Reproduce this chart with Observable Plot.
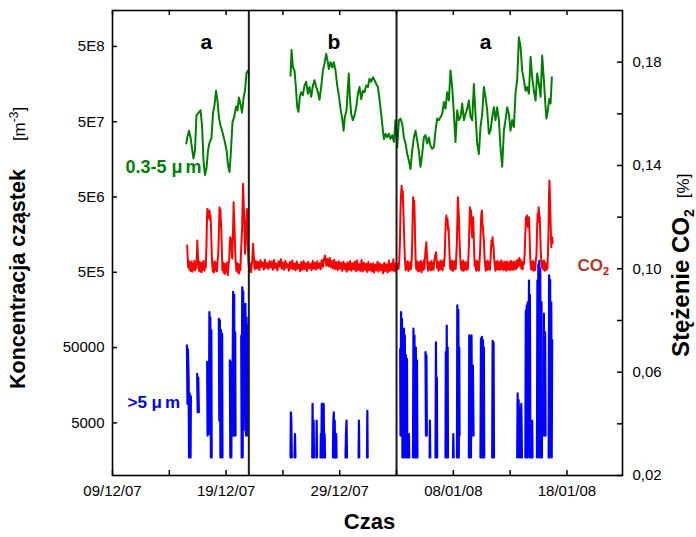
<!DOCTYPE html>
<html><head><meta charset="utf-8">
<script src="https://cdn.jsdelivr.net/npm/d3@7"></script>
<script src="https://cdn.jsdelivr.net/npm/@observablehq/plot@0.6"></script>
<style>
body{margin:0;background:#fff;}
#chart{position:relative;width:696px;height:537px;}
#chart svg{position:absolute;left:0;top:0;}
</style></head><body><div id="chart"></div>
<script>
// ---- data (time = days since 2007-12-01 00:00 UTC) ----
const xDomainDays = [8, 52.89];
const xMajorTicks = ["2007-12-09", "2007-12-19", "2007-12-29", "2008-01-08", "2008-01-18"];
const xMinorTicks = ["2007-12-14", "2007-12-24", "2008-01-03", "2008-01-13"];
const separators = ["2007-12-21", "2008-01-03"];

const leftTicks = [5000, 50000, 5e5, 5e6, 5e7, 5e8];
const leftTickLabels = ["5000", "50000", "5E5", "5E6", "5E7", "5E8"];
const leftDomain = [1e3, 1.5e9];

const rightTicks = [0.02, 0.06, 0.10, 0.14, 0.18];
const rightTickLabels = ["0,02", "0,06", "0,10", "0,14", "0,18"];
const rightMinorTicks = [0.04, 0.08, 0.12, 0.16];
const rightDomain = [0.02, 0.20];

const periodLabels = ["a", "b", "a"];
const periodLabelDays = [16.27, 27.48, 40.83];

// particles 0.3-5 µm : [day, log10(concentration m^-3)]
const greenA = [[14.49,7.41],[14.60,7.50],[14.73,7.58],[14.87,7.49],[15.00,7.34],[15.13,7.21],[15.26,7.32],[15.39,7.78],[15.57,7.82],[15.75,7.85],[15.88,7.65],[16.01,7.18],[16.14,6.99],[16.27,7.08],[16.41,7.32],[16.54,7.42],[16.71,7.48],[16.85,7.82],[16.98,7.92],[17.11,8.11],[17.24,7.98],[17.38,7.74],[17.51,7.65],[17.68,7.56],[17.86,7.45],[18.04,7.32],[18.17,7.12],[18.30,7.03],[18.43,7.32],[18.56,7.69],[18.74,7.78],[18.87,7.90],[19.00,7.85],[19.13,8.02],[19.27,7.93],[19.40,7.82],[19.53,8.01],[19.66,8.11],[19.80,8.35],[19.93,8.38],[20.02,8.33]];
const greenB = [[23.67,8.31],[23.76,8.65],[23.88,8.42],[24.02,8.38],[24.14,8.16],[24.26,7.89],[24.37,7.83],[24.49,8.03],[24.61,8.09],[24.75,8.05],[24.90,8.18],[25.05,8.23],[25.20,8.07],[25.34,8.16],[25.49,8.03],[25.64,8.18],[25.78,8.25],[25.93,8.16],[26.08,8.09],[26.22,7.99],[26.37,8.16],[26.52,8.38],[26.66,8.47],[26.81,8.60],[26.93,8.51],[27.04,8.40],[27.19,8.49],[27.34,8.42],[27.48,8.49],[27.63,8.38],[27.78,8.18],[27.92,8.05],[28.07,7.87],[28.22,7.74],[28.34,7.58],[28.45,7.76],[28.60,7.85],[28.72,8.16],[28.80,8.34],[28.89,8.03],[29.01,7.80],[29.16,7.72],[29.30,7.78],[29.45,7.89],[29.60,8.07],[29.74,8.16],[29.89,8.00],[30.04,8.11],[30.18,8.09],[30.33,8.18],[30.48,8.16],[30.62,8.27],[30.77,8.23],[30.92,8.29],[31.06,8.25],[31.21,8.20],[31.36,8.16],[31.50,8.00],[31.65,7.80],[31.80,7.58],[31.89,7.47],[32.03,7.54],[32.18,7.49],[32.33,7.54],[32.47,7.47],[32.62,7.52],[32.77,7.43],[32.91,7.72],[33.06,7.36],[33.21,7.72],[33.35,7.74],[33.50,7.67],[33.65,7.49],[33.79,7.41],[33.94,7.27],[34.09,7.18],[34.23,7.07],[34.38,7.32],[34.53,7.49],[34.67,7.58],[34.82,7.45],[34.97,7.30],[35.11,7.10],[35.26,7.27],[35.41,7.49],[35.55,7.52],[35.70,7.41],[35.85,7.49],[35.99,7.38],[36.14,7.34],[36.29,7.36],[36.43,7.58],[36.58,7.74],[36.73,7.72],[36.87,7.76],[37.02,7.80],[37.17,7.96],[37.31,7.87],[37.46,8.09],[37.61,7.98],[37.75,8.38],[37.90,8.16],[38.05,7.80],[38.19,7.43],[38.34,7.85],[38.49,7.72],[38.63,7.76],[38.78,7.94],[38.93,7.72],[39.07,7.80],[39.22,7.87],[39.37,7.98],[39.51,7.76],[39.66,7.72],[39.81,8.20],[39.95,7.80],[40.10,7.41],[40.25,7.27],[40.39,7.63],[40.54,7.80],[40.69,8.16],[40.83,8.03],[40.98,7.85],[41.13,7.54],[41.27,7.58],[41.42,7.76],[41.57,7.89],[41.71,7.72],[41.86,7.89],[42.01,7.72],[42.15,7.36],[42.30,7.10],[42.45,7.58],[42.59,7.72],[42.74,7.89],[42.89,7.80],[43.03,7.58],[43.18,7.72],[43.33,7.63],[43.48,8.09],[43.62,8.25],[43.77,8.82],[43.92,8.69],[44.06,8.38],[44.21,8.25],[44.36,8.11],[44.50,8.16],[44.65,8.07],[44.80,8.56],[44.94,8.29],[45.09,8.11],[45.24,7.98],[45.38,8.34],[45.53,8.20],[45.68,8.03],[45.82,8.58],[45.97,8.25],[46.12,7.89],[46.20,7.74],[46.32,7.85],[46.44,8.00],[46.56,7.94],[46.67,8.29]];

// particles >5 µm bursts : [day, log10(concentration m^-3)]
const blueBursts = [
 [[14.55,4.73],[14.60,3.95],[14.64,4.68],[14.70,4.28],[14.74,3.24],[14.80,4.09],[14.87,3.24],[14.90,4.05]],
 [[15.45,4.35],[15.50,3.84],[15.55,4.30],[15.60,3.84]],
 [[16.33,4.51],[16.37,3.53],[16.43,4.49],[16.48,3.55],[16.53,5.17],[16.57,3.60],[16.61,5.10],[16.66,3.24],[16.70,4.93],[16.73,3.24]],
 [[17.36,5.08],[17.40,3.73],[17.45,5.06],[17.50,3.24],[17.55,4.93],[17.60,3.24],[17.65,4.88],[17.68,3.24]],
 [[18.33,4.53],[18.37,3.24],[18.42,4.51],[18.46,3.24],[18.50,4.51],[18.54,3.53],[18.62,5.44],[18.66,3.53],[18.71,5.40],[18.75,3.53],[18.80,4.90],[18.83,3.53]],
 [[19.33,4.86],[19.37,3.24],[19.42,5.50],[19.46,3.24],[19.50,5.45],[19.54,3.60],[19.60,5.28],[19.65,4.09],[19.70,5.28],[19.75,3.53],[19.80,5.10],[19.85,3.53],[19.88,5.00]],
 [[23.67,3.24],[23.70,3.84],[23.74,3.73],[23.78,3.24]],
 [[24.02,3.24],[24.06,3.55],[24.10,3.24]],
 [[25.58,3.24],[25.61,3.95],[25.65,3.24],[25.70,3.73],[25.74,3.24]],
 [[25.94,3.24],[25.97,3.73],[26.00,3.24]],
 [[26.31,3.24],[26.34,3.55],[26.38,3.24],[26.42,3.95],[26.46,3.24],[26.50,3.95],[26.55,3.24],[26.59,3.95],[26.63,3.24],[26.67,3.55],[26.71,3.24]],
 [[27.40,3.24],[27.44,3.73],[27.48,3.84],[27.52,3.24],[27.56,3.73],[27.60,3.24]],
 [[27.66,3.24],[27.69,3.55],[27.72,3.24]],
 [[28.51,3.24],[28.55,3.55],[28.60,3.73],[28.64,3.24]],
 [[29.66,3.24],[29.69,3.73],[29.72,3.24]],
 [[30.40,3.24],[30.43,3.86],[30.46,3.24]],
 [[33.32,4.68],[33.35,3.53],[33.40,5.17],[33.44,3.73],[33.48,5.08],[33.52,3.24],[33.56,4.86],[33.60,3.24],[33.65,4.95],[33.69,3.24],[33.73,4.86],[33.77,3.53],[33.82,4.60],[33.86,3.24],[33.92,4.55],[33.95,3.24]],
 [[34.05,3.24],[34.09,3.55],[34.12,3.24]],
 [[34.45,3.24],[34.49,4.95],[34.53,3.24],[34.58,4.86],[34.62,3.24],[34.70,4.70],[34.75,3.24],[34.80,4.53],[34.84,3.24]],
 [[35.55,4.64],[35.59,3.53],[35.63,4.60],[35.67,3.53]],
 [[35.91,3.24],[35.94,3.73],[35.97,3.24]],
 [[36.43,3.24],[36.47,4.77],[36.51,3.24],[36.55,4.30],[36.58,3.24]],
 [[37.31,3.24],[37.34,4.64],[37.38,3.24],[37.42,4.99],[37.46,3.24],[37.50,4.70],[37.53,3.24]],
 [[37.97,3.24],[38.00,3.55],[38.03,3.24]],
 [[38.32,3.24],[38.35,5.26],[38.39,3.24],[38.44,5.20],[38.48,3.24],[38.52,4.70],[38.55,3.53]],
 [[39.37,3.24],[39.40,4.86],[39.44,3.24],[39.50,4.82],[39.55,3.24],[39.60,4.86],[39.65,3.53],[39.72,4.46],[39.78,3.53]],
 [[40.39,3.24],[40.43,4.82],[40.47,3.24],[40.52,4.84],[40.56,3.24],[40.61,4.80],[40.65,3.24],[40.69,4.70],[40.72,3.24]],
 [[41.42,3.24],[41.46,4.79],[41.50,3.24],[41.54,4.77],[41.58,3.24]],
 [[43.62,3.24],[43.66,4.09],[43.70,3.40],[43.75,4.00],[43.80,3.24],[43.86,3.90],[43.92,3.24],[43.98,3.95],[44.04,3.24]],
 [[44.34,3.24],[44.38,5.19],[44.42,3.24],[44.46,5.26],[44.50,3.24],[44.55,5.30],[44.60,3.53],[44.66,5.59],[44.70,3.24],[44.74,5.40],[44.78,3.24]],
 [[44.90,3.24],[44.94,3.73],[44.97,3.24]],
 [[45.36,3.24],[45.40,5.59],[45.44,3.53],[45.48,5.80],[45.52,3.24],[45.56,5.85],[45.60,3.53],[45.65,5.75],[45.70,3.24],[45.76,5.30],[45.80,3.24]],
 [[45.92,3.53],[45.97,5.15],[46.02,3.53],[46.08,4.90],[46.12,3.53]],
 [[46.39,3.24],[46.43,5.66],[46.47,3.24],[46.52,5.60],[46.56,3.40],[46.62,5.30],[46.66,3.24],[46.70,4.80]]
];

// CO2 concentration [%] : [day, value] — period a (1), period b, period a (2)
const co2A = [[14.57,.109],[14.62,.1045],[14.66,.1006],[14.72,.1030],[14.78,.0996],[14.84,.1024],[14.90,.0992],[14.96,.1028],[15.02,.0989],[15.08,.1018],[15.14,.0998],[15.20,.1031],[15.26,.0994],[15.32,.1021],[15.38,.1002],[15.43,.1060],[15.46,.1110],[15.50,.1070],[15.55,.1030],[15.61,.0993],[15.67,.1026],[15.73,.0990],[15.79,.1022],[15.85,.0987],[15.91,.1025],[15.97,.0997],[16.03,.1030],[16.09,.0993],[16.15,.1022],[16.21,.1004],[16.27,.1090],[16.31,.1180],[16.35,.1232],[16.40,.1200],[16.45,.1222],[16.50,.1195],[16.54,.1226],[16.59,.1190],[16.63,.1206],[16.68,.1150],[16.72,.1084],[16.77,.1020],[16.83,.0990],[16.89,.1025],[16.95,.0986],[17.01,.1028],[17.07,.0995],[17.13,.1022],[17.19,.0990],[17.25,.1030],[17.31,.1060],[17.37,.1150],[17.42,.1238],[17.46,.1205],[17.50,.1230],[17.54,.1180],[17.58,.1150],[17.62,.1080],[17.67,.0995],[17.73,.1024],[17.79,.0985],[17.85,.1020],[17.91,.0980],[17.97,.1018],[18.03,.0990],[18.09,.1025],[18.15,.0975],[18.21,.1015],[18.27,.1032],[18.32,.1090],[18.36,.1122],[18.41,.1095],[18.45,.1116],[18.50,.1060],[18.54,.1040],[18.58,.1100],[18.62,.1170],[18.66,.1258],[18.70,.1200],[18.74,.1160],[18.79,.1080],[18.84,.1030],[18.90,.0993],[18.96,.1022],[19.02,.0988],[19.08,.1019],[19.14,.0982],[19.20,.1015],[19.26,.0995],[19.31,.1058],[19.36,.1110],[19.41,.1161],[19.45,.1250],[19.49,.1329],[19.53,.1280],[19.57,.1226],[19.62,.1150],[19.66,.1058],[19.71,.1100],[19.75,.1161],[19.80,.1200],[19.83,.1232],[19.87,.1160],[19.91,.1097],[19.95,.1040],[20.00,.1006],[20.05,.1024],[20.10,.0990],[20.15,.1020],[20.20,.0987],[20.25,.1015],[20.30,.1032],[20.34,.1070],[20.38,.1097],[20.42,.1060],[20.47,.1025]];
const co2B = [[20.52,.0998],[20.62,.1030],[20.72,.1002],[20.82,.1027],[20.92,.0995],[21.02,.1033],[21.12,.1008],[21.22,.1025],[21.32,.0997],[21.42,.1035],[21.52,.1004],[21.62,.1022],[21.72,.0999],[21.82,.1030],[21.92,.1006],[22.02,.1028],[22.12,.0996],[22.22,.1034],[22.32,.1003],[22.42,.1020],[22.52,.0994],[22.62,.1029],[22.72,.1009],[22.82,.1037],[22.92,.1000],[23.02,.1024],[23.12,.0996],[23.22,.1031],[23.32,.1005],[23.42,.1019],[23.52,.0993],[23.62,.1027],[23.72,.1001],[23.82,.1032],[23.92,.0998],[24.02,.1021],[24.12,.0994],[24.22,.1028],[24.32,.1000],[24.42,.1017],[24.52,.0991],[24.62,.1026],[24.72,.0996],[24.82,.1030],[24.92,.0999],[25.02,.1022],[25.12,.0992],[25.22,.1027],[25.32,.1002],[25.42,.1019],[25.52,.0995],[25.62,.1031],[25.72,.1000],[25.82,.1024],[25.92,.0997],[26.02,.1029],[26.12,.1003],[26.22,.1022],[26.32,.0998],[26.42,.1034],[26.52,.1008],[26.62,.1040],[26.72,.1051],[26.82,.1012],[26.92,.1038],[27.02,.1010],[27.12,.1042],[27.22,.1006],[27.32,.1030],[27.42,.1001],[27.52,.1035],[27.62,.0999],[27.72,.1026],[27.82,.0995],[27.92,.1029],[28.02,.1000],[28.12,.1024],[28.22,.0992],[28.32,.1027],[28.42,.0998],[28.52,.1020],[28.62,.0989],[28.72,.1025],[28.82,.0996],[28.92,.1030],[29.02,.0993],[29.12,.1022],[29.22,.0997],[29.32,.1028],[29.42,.0991],[29.52,.1032],[29.62,.0995],[29.72,.1018],[29.82,.0992],[29.92,.1034],[30.02,.0990],[30.12,.1024],[30.22,.0996],[30.32,.1020],[30.42,.0988],[30.52,.1026],[30.62,.0994],[30.72,.1019],[30.82,.0990],[30.92,.1022],[31.02,.0986],[31.12,.1017],[31.22,.0993],[31.32,.1027],[31.42,.0989],[31.52,.1021],[31.62,.0995],[31.72,.1016],[31.82,.0983],[31.92,.1024],[32.02,.0991],[32.12,.1018],[32.22,.0986],[32.32,.1032],[32.42,.0992],[32.52,.1020],[32.62,.0994],[32.72,.1037],[32.82,.0990],[32.92,.1022],[33.02,.0995],[33.10,.1019]];
const co2C = [[33.18,.1000],[33.24,.1032],[33.30,.1100],[33.35,.1226],[33.40,.1290],[33.45,.1322],[33.50,.1280],[33.55,.1300],[33.60,.1230],[33.65,.1161],[33.70,.1080],[33.75,.1030],[33.80,.0995],[33.86,.1025],[33.92,.1000],[33.98,.1030],[34.04,.0992],[34.10,.1022],[34.16,.0997],[34.22,.1026],[34.28,.1000],[34.34,.1040],[34.38,.1100],[34.42,.1200],[34.46,.1277],[34.51,.1240],[34.56,.1264],[34.60,.1200],[34.64,.1100],[34.68,.1040],[34.73,.1000],[34.79,.1028],[34.85,.0993],[34.91,.1025],[34.97,.0990],[35.03,.1026],[35.09,.0995],[35.15,.1030],[35.21,.0987],[35.27,.1022],[35.33,.0996],[35.39,.1032],[35.45,.1000],[35.51,.1045],[35.57,.1080],[35.62,.1103],[35.67,.1060],[35.72,.1020],[35.78,.0993],[35.84,.1026],[35.90,.0998],[35.96,.1024],[36.02,.0995],[36.08,.1030],[36.14,.0999],[36.20,.1022],[36.26,.0996],[36.32,.1032],[36.38,.1045],[36.43,.1058],[36.48,.1064],[36.53,.1030],[36.58,.1002],[36.64,.1028],[36.70,.0993],[36.76,.1024],[36.82,.0997],[36.88,.1032],[36.94,.0999],[37.00,.1026],[37.06,.0995],[37.12,.1032],[37.18,.1010],[37.24,.1050],[37.29,.1122],[37.34,.1180],[37.39,.1206],[37.44,.1170],[37.49,.1193],[37.54,.1150],[37.58,.1161],[37.63,.1100],[37.68,.1040],[37.73,.1000],[37.79,.1028],[37.85,.0995],[37.91,.1032],[37.97,.0993],[38.03,.1026],[38.09,.0998],[38.15,.1030],[38.21,.1000],[38.27,.1060],[38.31,.1097],[38.36,.1200],[38.40,.1277],[38.45,.1230],[38.49,.1200],[38.53,.1130],[38.57,.1084],[38.62,.1030],[38.68,.0997],[38.74,.1026],[38.80,.0994],[38.86,.1032],[38.92,.0993],[38.98,.1024],[39.04,.0998],[39.10,.1026],[39.16,.0996],[39.22,.1020],[39.28,.1000],[39.33,.1050],[39.37,.1084],[39.42,.1180],[39.46,.1238],[39.51,.1200],[39.56,.1226],[39.61,.1160],[39.66,.1122],[39.71,.1170],[39.75,.1200],[39.80,.1120],[39.84,.1058],[39.89,.1010],[39.95,.1025],[40.01,.0993],[40.07,.1032],[40.13,.0997],[40.19,.1026],[40.25,.0993],[40.31,.1030],[40.36,.1071],[40.41,.1150],[40.46,.1210],[40.51,.1226],[40.56,.1180],[40.60,.1161],[40.65,.1130],[40.69,.1110],[40.74,.1050],[40.79,.1019],[40.85,.0993],[40.91,.1026],[40.97,.0996],[41.03,.1032],[41.09,.0999],[41.15,.1024],[41.21,.0996],[41.27,.1032],[41.32,.1080],[41.36,.1110],[41.41,.1100],[41.45,.1122],[41.50,.1090],[41.54,.1084],[41.59,.1040],[41.64,.1019],[41.70,.0993],[41.76,.1026],[41.82,.0997],[41.88,.1030],[41.94,.0999],[42.00,.1024],[42.06,.0996],[42.12,.1028],[42.18,.0998],[42.24,.1032],[42.30,.1000],[42.36,.1022],[42.42,.0995],[42.48,.1027],[42.54,.0998],[42.60,.1025],[42.66,.0993],[42.72,.1028],[42.78,.0996],[42.84,.1022],[42.90,.0998],[42.96,.1026],[43.02,.0995],[43.08,.1030],[43.14,.0999],[43.20,.1024],[43.26,.0996],[43.32,.1028],[43.38,.1000],[43.44,.1022],[43.50,.0998],[43.56,.1032],[43.62,.1005],[43.68,.1034],[43.74,.1010],[43.80,.1042],[43.86,.1015],[43.92,.1035],[43.98,.1002],[44.04,.1025],[44.10,.0998],[44.16,.1028],[44.22,.1019],[44.28,.1058],[44.32,.1120],[44.36,.1160],[44.40,.1200],[44.45,.1180],[44.49,.1206],[44.53,.1170],[44.57,.1161],[44.62,.1190],[44.66,.1200],[44.70,.1150],[44.74,.1080],[44.78,.1032],[44.84,.0999],[44.90,.1026],[44.96,.0995],[45.02,.1030],[45.08,.0993],[45.14,.1024],[45.20,.0995],[45.26,.1030],[45.32,.1058],[45.37,.1150],[45.42,.1213],[45.46,.1180],[45.51,.1238],[45.56,.1210],[45.61,.1200],[45.66,.1120],[45.70,.1060],[45.74,.1032],[45.80,.1006],[45.86,.1030],[45.92,.0997],[45.98,.1032],[46.04,.0993],[46.10,.1024],[46.16,.0995],[46.22,.1019],[46.28,.1000],[46.33,.1058],[46.38,.1150],[46.42,.1290],[46.46,.1342],[46.50,.1280],[46.54,.1213],[46.58,.1150],[46.62,.1084],[46.66,.1110],[46.70,.1122],[46.74,.1100]];

// ---- helpers ----
const day = d => new Date(Date.UTC(2007, 11, 1) + d * 864e5);
const parse = s => new Date(s + "T00:00:00Z");
const W = 696, H = 537;
const M = {top: 10, right: 74, bottom: 62, left: 112};
const frameW = W - M.left - M.right, frameH = H - M.top - M.bottom;
const font = "'Liberation Sans', Arial, Helvetica, sans-serif";
const xDomain = xDomainDays.map(day);
const co2 = co2A.concat(co2B, co2C);
const blueRows = blueBursts.flatMap((b, k) => b.map(p => ({d: p[0], v: 10 ** p[1], k})));
const xTicksAll = xMajorTicks.concat(xMinorTicks).map(parse);

// ---- CO2 plot (right axis, drawn underneath) ----
const co2Plot = Plot.plot({
  width: W, height: H,
  marginTop: M.top, marginRight: M.right, marginBottom: M.bottom, marginLeft: M.left,
  style: {fontFamily: font, fontSize: "15px", background: "white", color: "#000"},
  x: {type: "utc", domain: xDomain, axis: null},
  y: {domain: rightDomain, label: null},
  marks: [
    Plot.line(co2, {x: r => day(r[0]), y: r => r[1], stroke: "#ff0000", strokeWidth: 2}),
    Plot.tickY(rightTicks.concat(rightMinorTicks), {y: d => d, insetLeft: frameW - 5, stroke: "#000", strokeWidth: 1.5}),
    Plot.axisY(rightTicks, {anchor: "right", tickSize: 0, tickPadding: 10, label: null,
      tickFormat: d => rightTickLabels[rightTicks.indexOf(d)], fill: "#000"}),
    Plot.text([{d: 48.93, c: 0.1012}], {x: r => day(r.d), y: "c", text: () => "CO2", textAnchor: "start",
      fill: "#b23a23", fontWeight: "bold", fontSize: 17}),
    Plot.text(["Stężenie CO2"], {frameAnchor: "right", rotate: -90, textAnchor: "start", dx: 59, dy: 114,
      fontSize: 24, fontWeight: "bold", fill: "#000"})
  ]
});

// ---- particle plot (left log axis, drawn on top) ----
const partPlot = Plot.plot({
  width: W, height: H,
  marginTop: M.top, marginRight: M.right, marginBottom: M.bottom, marginLeft: M.left,
  style: {fontFamily: font, fontSize: "15px", background: "transparent", color: "#000"},
  x: {type: "utc", domain: xDomain, label: null},
  y: {type: "log", domain: leftDomain, label: null, axis: null},
  marks: [
    Plot.line(greenA, {x: r => day(r[0]), y: r => 10 ** r[1], stroke: "#008000", strokeWidth: 2}),
    Plot.line(greenB, {x: r => day(r[0]), y: r => 10 ** r[1], stroke: "#008000", strokeWidth: 2}),
    Plot.line(blueRows, {x: r => day(r.d), y: "v", z: "k", stroke: "#0000ff", strokeWidth: 2.2}),
    Plot.ruleX(separators.map(parse), {stroke: "#1a1a1a", strokeWidth: 2}),
    Plot.frame({stroke: "#000", strokeWidth: 1.6}),
    Plot.tickY(leftTicks, {y: d => d, insetRight: frameW - 5, stroke: "#000", strokeWidth: 1.5}),
    Plot.tickX(xTicksAll, {x: d => d, insetTop: frameH - 5, stroke: "#000", strokeWidth: 1.5}),
    Plot.tickX(xTicksAll, {x: d => d, insetBottom: frameH - 5, stroke: "#000", strokeWidth: 1.5}),
    Plot.text(leftTicks, {y: d => d, frameAnchor: "left", textAnchor: "end", dx: -8,
      text: (d, i) => leftTickLabels[i], fill: "#000"}),
    Plot.axisX(xMajorTicks.map(parse), {anchor: "bottom", tickSize: 0, tickPadding: 10, label: null,
      tickFormat: d3.utcFormat("%d/%m/%y"), fill: "#000"}),
    Plot.text(periodLabels, {x: (d, i) => day(periodLabelDays[i]), y: () => 5.7e8, text: d => d,
      fontSize: 21, fontWeight: "bold", fill: "#000"}),
    Plot.text([{d: 9.15, v: 1.25e7}], {x: r => day(r.d), y: "v", text: () => "0.3-5 μm", textAnchor: "start",
      fill: "#008000", fontWeight: "bold", fontSize: 18}),
    Plot.text([{d: 9.32, v: 9400}], {x: r => day(r.d), y: "v", text: () => ">5 μm", textAnchor: "start",
      fill: "#0000ff", fontWeight: "bold", fontSize: 17}),
    Plot.text(["Koncentracja cząstek"], {frameAnchor: "left", rotate: -90, textAnchor: "start", dx: -94, dy: 146,
      fontSize: 21.5, fontWeight: "bold", fill: "#000"}),
    Plot.text(["Czas"], {frameAnchor: "bottom", dx: 2, dy: 53, fontSize: 22, fontWeight: "bold", fill: "#000"})
  ]
});

const chart = document.getElementById("chart");
chart.appendChild(co2Plot);
chart.appendChild(partPlot);

// ---- rich text (sub/superscripts), found by their text content ----
const NS = "http://www.w3.org/2000/svg";
function rich(svg, content, parts) {
  const t = Array.from(svg.querySelectorAll("text")).find(e => e.textContent === content);
  if (!t) return;
  t.textContent = "";
  for (const p of parts) {
    const s = document.createElementNS(NS, "tspan");
    s.textContent = p[0];
    for (const [k, v] of Object.entries(p[1] || {})) s.setAttribute(k, v);
    t.appendChild(s);
  }
}
rich(co2Plot, "CO2", [["CO"], ["2", {fill: "#ff0000", "font-size": 11, dy: 4}]]);
rich(co2Plot, "Stężenie CO2", [["Stężenie CO"], ["2", {"font-size": 14, dy: 5}],
  ["[%]", {dx: 11, dy: -5, "font-weight": "normal", "font-size": 17}]]);
rich(partPlot, "Koncentracja cząstek", [["Koncentracja cząstek"], ["[m", {dx: 28, "font-weight": "normal", "font-size": 17}],
  ["-3", {"font-weight": "normal", "font-size": 12, dy: -7}], ["]", {"font-weight": "normal", "font-size": 17, dy: 7}]]);
rich(partPlot, "0.3-5 μm", [["0.3-5 "], ["μ"], ["m", {dx: 3}]]);
rich(partPlot, ">5 μm", [[">5 "], ["μ"], ["m", {dx: 3}]]);
</script></body></html>
